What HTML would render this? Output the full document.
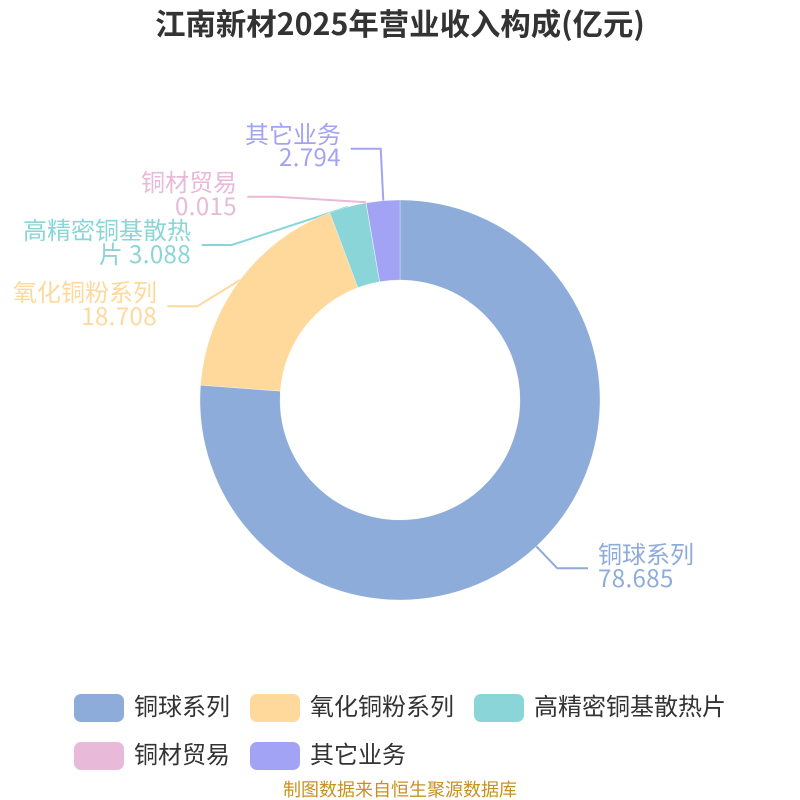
<!DOCTYPE html>
<html lang="zh">
<head>
<meta charset="utf-8">
<title>江南新材2025年营业收入构成(亿元)</title>
<style>
html,body{margin:0;padding:0;background:#fff;width:800px;height:800px;overflow:hidden}
svg{display:block}
text{font-family:"Noto Sans CJK SC","Liberation Sans",sans-serif}
.n{letter-spacing:.4px}
</style>
</head>
<body>
<svg width="800" height="800" viewBox="0 0 800 800" xmlns="http://www.w3.org/2000/svg">
<rect width="800" height="800" fill="#fff"/>
<text x="400" y="35" text-anchor="middle" font-size="30.4" font-weight="700" fill="#333">江南新材2025年营业收入构成(亿元)</text>

<g fill="none" stroke-width="2">
<polyline points="536,546 557.3,568.3 588,568.3" stroke="#8eacda"/>
<polyline points="240,280 197.3,306.3 167.3,306.3" stroke="#ffd89b"/>
<polyline points="347.7,207 231.7,245 201.7,245" stroke="#89d5d8"/>
<polyline points="366,202.3 276.7,196.7 247.3,196.7" stroke="#e8b9d8"/>
<polyline points="383.3,200.7 380.7,148.7 350.7,148.7" stroke="#a3a3f5"/>
</g>

<g stroke="#fff" stroke-width="0.3" stroke-linejoin="round">
<path d="M400,200 A200,200 0 1 1 200.55,385.18 L280.33,391.11 A120,120 0 1 0 400,280 Z" fill="#8eacda"/>
<path d="M200.55,385.18 A200,200 0 0 1 329.8,212.7 L357.9,287.6 A120,120 0 0 0 280.33,391.11 Z" fill="#ffd89b"/>
<path d="M329.8,212.7 A200,200 0 0 1 366,202.9 L379.6,281.75 A120,120 0 0 0 357.9,287.6 Z" fill="#89d5d8"/>
<path d="M366,202.9 A200,200 0 0 1 366.16,202.9 L379.7,281.73 A120,120 0 0 0 379.6,281.75 Z" fill="#e8b9d8"/>
<path d="M366.16,202.9 A200,200 0 0 1 400,200 L400,280 A120,120 0 0 0 379.7,281.73 Z" fill="#a3a3f5"/>
</g>

<g font-size="24">
<g fill="#8eacda">
<text x="598" y="563">铜球系列</text>
<text class="n" x="598" y="587">78.685</text>
</g>
<g fill="#ffd89b" text-anchor="end">
<text x="157" y="301">氧化铜粉系列</text>
<text class="n" x="157" y="325">18.708</text>
</g>
<g fill="#89d5d8" text-anchor="end">
<text x="191" y="239">高精密铜基散热</text>
<text class="n" x="191" y="263">片 3.088</text>
</g>
<g fill="#e8b9d8" text-anchor="end">
<text x="237" y="191">铜材贸易</text>
<text class="n" x="237" y="215">0.015</text>
</g>
<g fill="#a3a3f5" text-anchor="end">
<text x="341" y="143">其它业务</text>
<text class="n" x="341" y="166">2.794</text>
</g>
</g>

<rect x="74" y="694" width="50" height="28" rx="7" fill="#8eacda"/>
<rect x="250" y="694" width="50" height="28" rx="7" fill="#ffd89b"/>
<rect x="474" y="694" width="50" height="28" rx="7" fill="#89d5d8"/>
<rect x="74" y="742" width="50" height="28" rx="7" fill="#e8b9d8"/>
<rect x="250" y="742" width="50" height="28" rx="7" fill="#a3a3f5"/>
<g font-size="24" fill="#333">
<text x="134" y="715">铜球系列</text>
<text x="310" y="715">氧化铜粉系列</text>
<text x="534" y="715">高精密铜基散热片</text>
<text x="134" y="763">铜材贸易</text>
<text x="310" y="763">其它业务</text>
</g>

<text x="400" y="796" text-anchor="middle" font-size="18" fill="#c8911f">制图数据来自恒生聚源数据库</text>
</svg>
</body>
</html>
